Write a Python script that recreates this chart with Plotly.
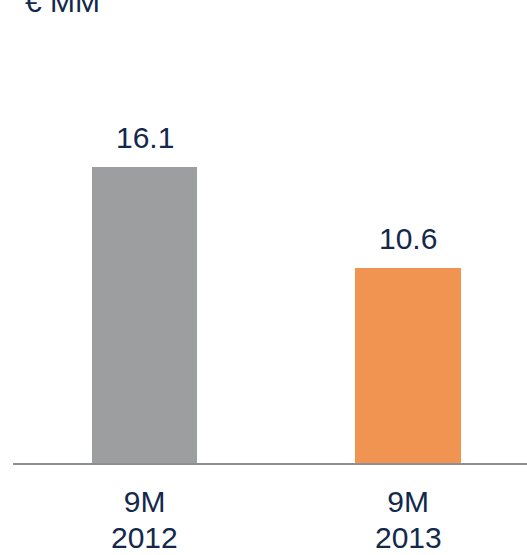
import plotly.graph_objects as go

periods = ["9M", "9M"]
years = ["2012", "2013"]
values = [16.1, 10.6]
bar_colors = ["#9d9ea0", "#f19452"]
value_labels = ["16.1", "10.6"]
unit_label = "€ MM"

navy = "#13294b"
font_family = "Liberation Sans, Arial, sans-serif"
xpos = list(range(len(values)))

fig = go.Figure()
fig.add_trace(go.Bar(
    x=xpos,
    y=values,
    width=0.40,
    marker=dict(color=bar_colors, line=dict(width=0)),
    hoverinfo="skip",
))

# value labels above bars
for i, (v, lab) in enumerate(zip(values, value_labels)):
    fig.add_annotation(
        text=lab, x=i, y=v, xref="x", yref="y",
        xanchor="center", yanchor="bottom", yshift=11, showarrow=False,
        font=dict(size=30, color=navy, family=font_family),
    )

# second line of category labels (years)
for i, yr in enumerate(years):
    fig.add_annotation(
        text=yr, x=i, y=0, xref="x", yref="paper",
        xanchor="center", yanchor="top", yshift=-56, showarrow=False,
        font=dict(size=30, color=navy, family=font_family),
    )

fig.add_annotation(
    text=unit_label, xref="paper", yref="paper", x=0.019, y=1.0,
    xanchor="left", yanchor="middle", yshift=-1, showarrow=False,
    font=dict(size=30, color=navy, family=font_family),
)

fig.update_layout(
    width=527, height=555,
    margin=dict(l=13, r=0, t=0, b=92),
    plot_bgcolor="white", paper_bgcolor="white",
    showlegend=False,
    bargap=0,
)
fig.update_xaxes(
    range=[-0.5, 1.4516],
    tickvals=xpos, ticktext=periods,
    showline=True, linecolor="#8c8f96", linewidth=2,
    showgrid=False, zeroline=False, ticks="",
    ticklabelstandoff=11,
    tickfont=dict(size=30, color=navy, family=font_family),
)
fig.update_yaxes(
    range=[0, 25.18], visible=False, showgrid=False, zeroline=False,
)

fig.write_html("out.html")
